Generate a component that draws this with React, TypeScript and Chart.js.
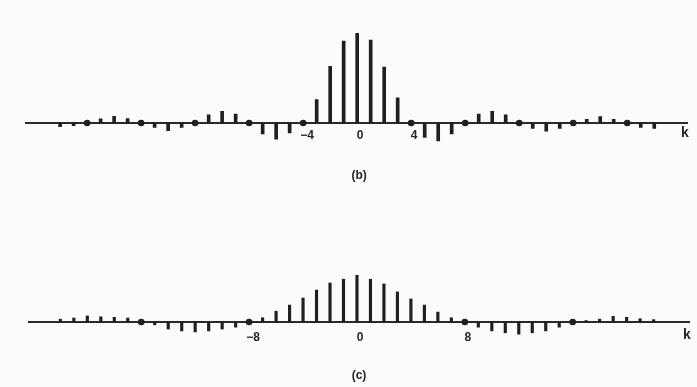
import React, { useEffect, useRef } from "react";
import { Chart, registerables } from "chart.js";

Chart.register(...registerables);

// sample index k
const K = [
  -22, -21, -20, -19, -18, -17, -16, -15, -14, -13, -12, -11, -10, -9, -8, -7, -6, -5, -4, -3, -2, -1,
  0, 1, 2, 3, 4, 5, 6, 7, 8, 9, 10, 11, 12, 13, 14, 15, 16, 17, 18, 19, 20, 21, 22,
];

// panel (b) values, normalised to the central peak
const B_VALUES = [
  -0.04, -0.03, 0, 0.045, 0.075, 0.05, 0, -0.05, -0.085, -0.05, 0, 0.09, 0.13, 0.1, 0, -0.12, -0.18, -0.11, 0,
  0.26, 0.63, 0.91, 1.0, 0.92, 0.62, 0.28, 0, -0.16, -0.2, -0.12, 0, 0.1, 0.13, 0.09, 0, -0.06, -0.09, -0.06, 0,
  0.04, 0.07, 0.04, 0, -0.05, -0.06,
];

// panel (c) values, normalised to the central peak
const C_VALUES = [
  0.06, 0.085, 0.13, 0.11, 0.1, 0.085, 0, -0.06, -0.15, -0.19, -0.21, -0.19, -0.15, -0.11, 0, 0.09, 0.23, 0.36,
  0.51, 0.68, 0.83, 0.91, 1.0, 0.91, 0.81, 0.64, 0.49, 0.36, 0.21, 0.09, 0, -0.11, -0.19, -0.23, -0.26, -0.23,
  -0.19, -0.11, 0, 0.03, 0.06, 0.12, 0.1, 0.07, 0.05,
];

const B_TICKS = [-4, 0, 4];
const C_TICKS = [-8, 0, 8];
const AXIS_NAME = "k";
const B_CAPTION = "(b)";
const C_CAPTION = "(c)";

const INK = "#1f1f1f";
const TEXT = "#262626";

const stemAxisPlugin = {
  id: "stemAxis",
  beforeDatasetsDraw(chart: any) {
    const { ctx, chartArea, scales } = chart;
    const y0 = scales.y.getPixelForValue(0);
    ctx.save();
    ctx.strokeStyle = "#2a2a2a";
    ctx.lineWidth = 2;
    ctx.beginPath();
    ctx.moveTo(chartArea.left, y0);
    ctx.lineTo(chartArea.right, y0);
    ctx.stroke();
    ctx.restore();
  },
  afterDraw(chart: any, _args: any, opts: any) {
    const { ctx, chartArea, scales } = chart;
    const y0 = scales.y.getPixelForValue(0);
    ctx.save();
    ctx.fillStyle = TEXT;
    ctx.font = 'bold 12px "Liberation Sans", Arial, sans-serif';
    ctx.textAlign = "center";
    ctx.textBaseline = "middle";
    for (const t of opts.ticks as number[]) {
      const x = scales.x.getPixelForValue(t) + (t < 0 ? 4 : 3);
      const label = t < 0 ? "\u2212" + Math.abs(t) : String(t);
      ctx.fillText(label, x, y0 + opts.labelDy);
    }
    ctx.font = 'bold 14px "Liberation Sans", Arial, sans-serif';
    ctx.fillText(AXIS_NAME, chartArea.right - 3, y0 + opts.nameDy);
    ctx.font = 'bold 12px "Liberation Sans", Arial, sans-serif';
    ctx.fillText(opts.caption, scales.x.getPixelForValue(0) + 2, y0 + opts.captionDy);
    ctx.restore();
  },
};

type Panel = {
  values: number[];
  ticks: number[];
  caption: string;
  xMin: number;
  xMax: number;
  yMin: number;
  yMax: number;
  padding: { left: number; right: number; top: number; bottom: number };
  labelDy: number;
  nameDy: number;
  captionDy: number;
  barWidth: number;
};

function StemPanel({ panel, top, height }: { panel: Panel; top: number; height: number }) {
  const ref = useRef<HTMLCanvasElement | null>(null);
  useEffect(() => {
    if (!ref.current) return;
    const chart = new Chart(ref.current, {
      type: "bar",
      data: {
        datasets: [
          {
            type: "line",
            data: K.map((k, i) => ({ x: k, y: panel.values[i] })),
            showLine: false,
            pointRadius: (c: any) => (c.raw && c.raw.y === 0 ? 3.3 : 0),
            pointBackgroundColor: INK,
            pointBorderColor: INK,
            pointBorderWidth: 0,
            order: 0,
          } as any,
          {
            type: "bar",
            data: K.map((k, i) => ({ x: k, y: panel.values[i] })),
            backgroundColor: INK,
            borderWidth: 0,
            barThickness: panel.barWidth,
            order: 1,
          } as any,
        ],
      },
      options: {
        responsive: false,
        maintainAspectRatio: false,
        animation: false,
        devicePixelRatio: 1,
        layout: { padding: panel.padding },
        plugins: {
          legend: { display: false },
          tooltip: { enabled: false },
          stemAxis: {
            ticks: panel.ticks,
            caption: panel.caption,
            labelDy: panel.labelDy,
            nameDy: panel.nameDy,
            captionDy: panel.captionDy,
          },
        } as any,
        scales: {
          x: { type: "linear", min: panel.xMin, max: panel.xMax, display: false, offset: false },
          y: { type: "linear", min: panel.yMin, max: panel.yMax, display: false },
        },
      },
      plugins: [stemAxisPlugin],
    });
    return () => chart.destroy();
  }, [panel]);
  return (
    <canvas
      ref={ref}
      width={697}
      height={height}
      style={{ position: "absolute", left: 0, top, width: 697, height }}
    />
  );
}

const PANEL_B: Panel = {
  values: B_VALUES,
  ticks: B_TICKS,
  caption: B_CAPTION,
  xMin: -24.6,
  xMax: 24.5,
  yMin: -0.25,
  yMax: 1.0,
  padding: { left: 25, right: 9, top: 33, bottom: 47.5 },
  labelDy: 13,
  nameDy: 10,
  captionDy: 53,
  barWidth: 3,
};

const PANEL_C: Panel = {
  values: C_VALUES,
  ticks: C_TICKS,
  caption: C_CAPTION,
  xMin: -24.4,
  xMax: 24.7,
  yMin: -0.3,
  yMax: 1.0,
  padding: { left: 28, right: 7, top: 82, bottom: 50.9 },
  labelDy: 16,
  nameDy: 13,
  captionDy: 54,
  barWidth: 2.5,
};

export default function App() {
  return (
    <div
      style={{
        position: "fixed",
        left: 0,
        top: 0,
        width: 697,
        height: 387,
        background: "#fbfbfb",
        overflow: "hidden",
      }}
    >
      <StemPanel panel={PANEL_B} top={0} height={193} />
      <StemPanel panel={PANEL_C} top={193} height={194} />
    </div>
  );
}
